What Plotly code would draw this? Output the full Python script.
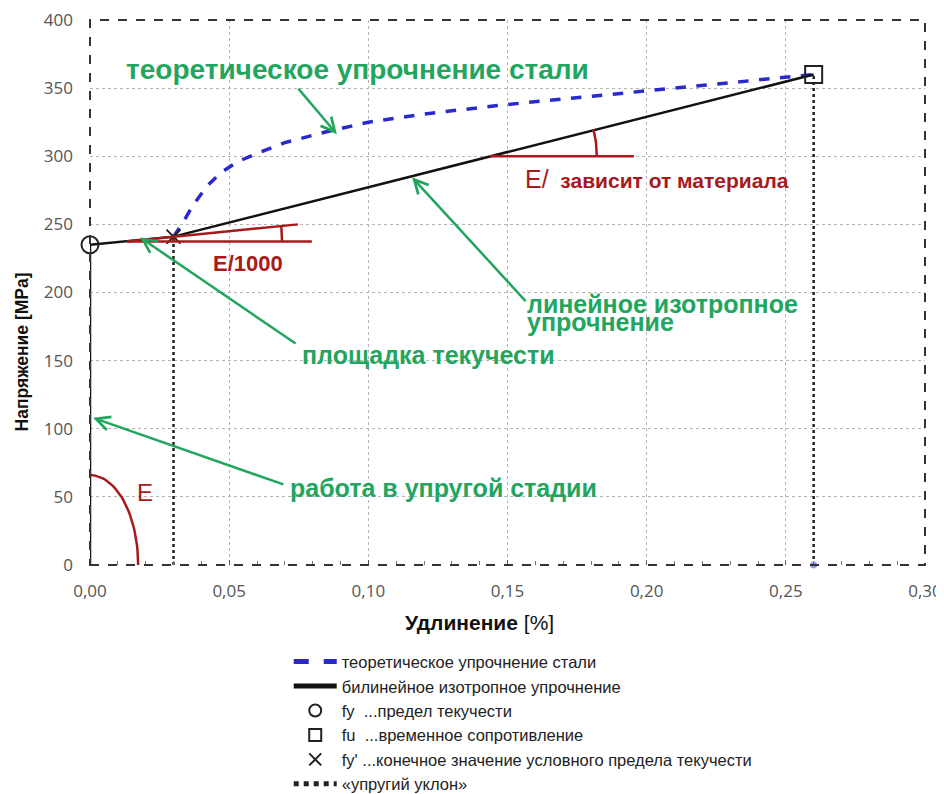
import numpy as np
import plotly.graph_objects as go

# --- данные ---
theory_x = [0.030, 0.033, 0.037, 0.042, 0.047, 0.053, 0.060, 0.070, 0.085, 0.100, 0.120, 0.150, 0.180, 0.210, 0.240, 0.260]
theory_y = [241, 250, 264, 278, 288, 296, 302, 310, 318, 325, 331, 338, 344, 350, 356, 360]

bilin_x = [0.0, 0.0, 0.030, 0.260]
bilin_y = [0, 235, 241, 360]

fy_x, fy_y = [0.0], [235]
fu_x, fu_y = [0.26], [360]
fy2_x, fy2_y = [0.030], [241]

slope_x = [0.030, 0.030, None, 0.260, 0.260]
slope_y = [0, 241, None, 0, 360]

x_ticks = [0.0, 0.05, 0.10, 0.15, 0.20, 0.25, 0.30]
y_ticks = [0, 50, 100, 150, 200, 250, 300, 350, 400]

GREEN = "#22a55e"
RED = "#a8191c"
BLUE = "#2a2acc"
LEG_FONT = "Liberation Sans Narrow, Arial Narrow, Liberation Sans, Arial"
ANN_FONT = "Liberation Sans, Arial"


def arc(cx, cy, rx, ry, t0, t1, n=30):
    t = np.radians(np.linspace(t0, t1, n))
    return cx + rx * np.cos(t), cy + ry * np.sin(t)


fig = go.Figure()

fig.add_trace(go.Scatter(
    x=theory_x, y=theory_y, mode="lines", name="теоретическое упрочнение стали",
    line=dict(color=BLUE, width=3.5, dash="dash"),
))
fig.add_trace(go.Scatter(
    x=bilin_x, y=bilin_y, mode="lines", name="билинейное изотропное упрочнение",
    line=dict(color="#111111", width=2.5), cliponaxis=False,
))
fig.add_trace(go.Scatter(
    x=fy_x, y=fy_y, mode="markers", name="fy  ...предел текучести", cliponaxis=False,
    marker=dict(symbol="circle-open", size=17, color="#222222", line=dict(width=2)),
))
fig.add_trace(go.Scatter(
    x=fu_x, y=fu_y, mode="markers", name="fu  ...временное сопротивление", cliponaxis=False,
    marker=dict(symbol="square-open", size=17, color="#222222", line=dict(width=2)),
))
fig.add_trace(go.Scatter(
    x=fy2_x, y=fy2_y, mode="markers", name="fy' ...конечное значение условного предела текучести",
    marker=dict(symbol="x-thin-open", size=14, color="#222222", line=dict(width=2)),
))
fig.add_trace(go.Scatter(
    x=slope_x, y=slope_y, mode="lines", name="«упругий уклон»",
    line=dict(color="#222222", width=2.5, dash="dot"),
))
fig.add_trace(go.Scatter(
    x=[0.26], y=[0], mode="markers", showlegend=False, cliponaxis=False,
    marker=dict(size=7, color="#9c9cf2"),
))

# --- красные пометки углов ---
red_line = dict(color=RED, width=2.5)
ex, ey = arc(0, 0, 0.0173, 66, 0, 90)
fig.add_trace(go.Scatter(x=ex, y=ey, mode="lines", line=red_line, showlegend=False, hoverinfo="skip"))
fig.add_trace(go.Scatter(x=[0.0133, 0.0797, None, 0.0133, 0.0747], y=[237.5, 237.5, None, 237.5, 250],
                         mode="lines", line=red_line, showlegend=False, hoverinfo="skip"))
ax1, ay1 = arc(0.0133, 237.5, 0.0557, 114, 0, 5.7, 10)
fig.add_trace(go.Scatter(x=ax1, y=ay1, mode="lines", line=red_line, showlegend=False, hoverinfo="skip"))
fig.add_trace(go.Scatter(x=[0.1437, 0.1954], y=[300, 300], mode="lines", line=red_line,
                         showlegend=False, hoverinfo="skip"))
ax2, ay2 = arc(0.1437, 300, 0.0384, 78.7, 0, 14.3, 15)
fig.add_trace(go.Scatter(x=ax2, y=ay2, mode="lines", line=red_line, showlegend=False, hoverinfo="skip"))

annotations = []


def green_text(x, y, text, size=25):
    annotations.append(dict(x=x, y=y, text=f"<b>{text}</b>", showarrow=False, xanchor="left",
                            yanchor="middle", font=dict(family=ANN_FONT, size=size, color=GREEN)))


def green_arrow(x, y, ax, ay):
    annotations.append(dict(x=x, y=y, ax=ax, ay=ay, axref="x", ayref="y", text="", showarrow=True,
                            arrowhead=5, arrowsize=1.1, arrowwidth=2.5, arrowcolor=GREEN))


green_text(0.0122, 364, "теоретическое упрочнение стали", size=28)
green_arrow(0.0887, 316.2, 0.0744, 350.7)
green_text(0.0754, 154.4, "площадка текучести")
green_arrow(0.018, 240.4, 0.0744, 161.8)
green_text(0.1563, 191.2, "линейное изотропное")
green_text(0.1563, 178.5, "упрочнение")
green_arrow(0.1157, 284.6, 0.157, 192.6)
green_text(0.0711, 56.6, "работа в упругой стадии")
green_arrow(0.0011, 108, 0.070, 58.8)

annotations.append(dict(x=0.0197, y=53, text="E", showarrow=False,
                        font=dict(family=ANN_FONT, size=24, color=RED)))
annotations.append(dict(x=0.0568, y=221.3, text="<b>E/1000</b>", showarrow=False,
                        font=dict(family=ANN_FONT, size=22, color=RED)))
annotations.append(dict(x=0.2037, y=283.5, showarrow=False,
                        text="<span style='font-size:25px'>E/</span>  <b>зависит от материала</b>",
                        font=dict(family=ANN_FONT, size=21, color=RED)))

# подписи осей
annotations.append(dict(xref="paper", yref="paper", x=0.467, y=-0.105, xanchor="center", yanchor="middle",
                        showarrow=False, text="<b>Удлинение</b> [%]",
                        font=dict(family=ANN_FONT, size=21, color="#111")))
annotations.append(dict(xref="paper", yref="paper", x=-0.0814, y=0.39, xanchor="center", yanchor="middle",
                        showarrow=False, textangle=-90,
                        text="<b>Напряжение [MPa]</b>", font=dict(family=ANN_FONT, size=17.5, color="#111")))

# страница сдвигает рисунок на ~8 px (отступ body), поэтому поля подобраны с учётом этого
fig.update_layout(
    width=944, height=794,
    margin=dict(l=82, r=27, t=12, b=237),
    paper_bgcolor="white", plot_bgcolor="white",
    separators=", ",
    annotations=annotations,
    showlegend=True,
    legend=dict(
        xref="paper", yref="container",
        x=0.238, y=0.1985, xanchor="left", yanchor="top",
        font=dict(family=LEG_FONT, size=16.5, color="#222"),
        itemwidth=43, tracegroupgap=0, itemsizing="constant", bgcolor="rgba(0,0,0,0)",
    ),
    shapes=[dict(type="rect", xref="paper", yref="paper", x0=0, x1=1, y0=0, y1=1,
                 line=dict(color="#333", width=2, dash="dash"))],
)
fig.update_xaxes(
    range=[0, 0.30], tickvals=x_ticks, tickformat=".2f", automargin=False,
    showgrid=True, gridcolor="#b5b5b5", griddash="dot", gridwidth=1,
    zeroline=False, showline=False,
    ticks="inside", ticklen=5, tickcolor="#555",
    minor=dict(dtick=0.01, ticks="inside", ticklen=4, tickcolor="#777", showgrid=False),
    tickfont=dict(family="Open Sans", size=17, color="#555"), ticklabelstandoff=14,
    ticklabeloverflow="allow",
)
fig.update_yaxes(
    range=[0, 400], tickvals=y_ticks, automargin=False,
    showgrid=True, gridcolor="#b5b5b5", griddash="dot", gridwidth=1,
    zeroline=False, showline=False,
    tickfont=dict(family="Open Sans", size=17, color="#555"), ticklabelstandoff=16,
    ticklabeloverflow="allow",
)

fig.write_html("out.html")
